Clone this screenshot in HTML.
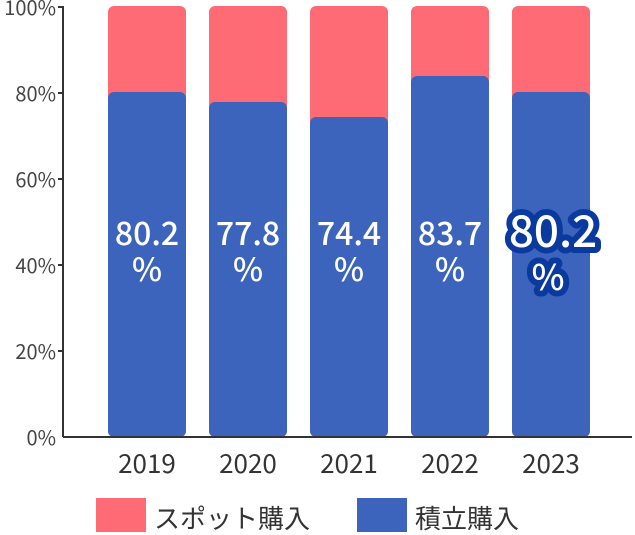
<!DOCTYPE html>
<html><head><meta charset="utf-8"><style>
html,body{margin:0;padding:0;background:#fff;}
svg{display:block;font-family:"Noto Sans CJK JP","Liberation Sans",sans-serif;}
</style></head><body>
<svg width="635" height="535" viewBox="0 0 635 535">
<g fill="#FF6B74">
<rect x="108" y="6" width="78" height="431" rx="6"/>
<rect x="209" y="6" width="78" height="431" rx="6"/>
<rect x="310" y="6" width="78" height="431" rx="6"/>
<rect x="411" y="6" width="78" height="431" rx="6"/>
<rect x="512" y="6" width="78" height="431" rx="6"/>
</g>
<g fill="#3D64BD">
<rect x="108" y="92" width="78" height="345" rx="6"/>
<rect x="209" y="102" width="78" height="335" rx="6"/>
<rect x="310" y="117" width="78" height="320" rx="6"/>
<rect x="411" y="76" width="78" height="361" rx="6"/>
<rect x="512" y="92" width="78" height="345" rx="6"/>
</g>
<g stroke="#333" stroke-width="2" fill="none">
<line x1="63" y1="6" x2="63" y2="437"/>
<line x1="63" y1="437" x2="632" y2="437"/>
<line x1="58" y1="7" x2="63" y2="7"/><line x1="58" y1="93" x2="63" y2="93"/>
<line x1="58" y1="179" x2="63" y2="179"/><line x1="58" y1="265" x2="63" y2="265"/>
<line x1="58" y1="351" x2="63" y2="351"/>
</g>
<g font-size="20" fill="#444" text-anchor="end">
<text x="56" y="15">100%</text><text x="56" y="101">80%</text>
<text x="56" y="187">60%</text><text x="56" y="273">40%</text>
<text x="56" y="359">20%</text><text x="56" y="445">0%</text>
</g>
<g font-size="26" fill="#333" text-anchor="middle">
<text x="147" y="473">2019</text><text x="248" y="473">2020</text>
<text x="349" y="473">2021</text><text x="450" y="473">2022</text>
<text x="551" y="473">2023</text>
</g>
<g font-size="32" fill="#fff" text-anchor="middle" font-weight="500">
<text x="147" y="245">80.2</text><text x="147" y="281">%</text>
<text x="248" y="245">77.8</text><text x="248" y="281">%</text>
<text x="349" y="245">74.4</text><text x="349" y="281">%</text>
<text x="450" y="245">83.7</text><text x="450" y="281">%</text>
</g>
<g text-anchor="middle" stroke="#0B3A9F" stroke-width="12" stroke-linejoin="round" fill="#fff" style="paint-order:stroke fill" font-weight="500">
<text x="553" y="247" font-size="44">80.2</text>
<text x="548" y="290" font-size="35">%</text>
</g>
<rect x="96" y="498" width="50" height="34" fill="#FF6B74"/>
<text x="154" y="528" font-size="26" fill="#333">スポット購入</text>
<rect x="357" y="498" width="50" height="34" fill="#3D64BD"/>
<text x="415" y="528" font-size="26" fill="#333">積立購入</text>
</svg>
</body></html>
